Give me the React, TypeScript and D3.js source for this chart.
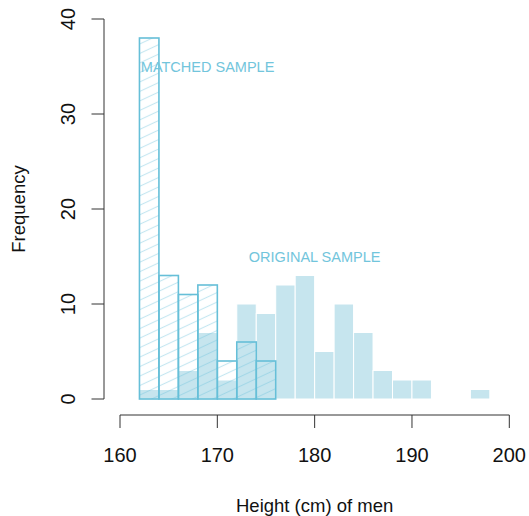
import React from "react";
import * as d3 from "d3";

const binStarts = [162, 164, 166, 168, 170, 172, 174, 176, 178, 180, 182, 184, 186, 188, 190, 192, 194, 196];
const binWidth = 2;
const originalCounts = [1, 1, 3, 7, 2, 10, 9, 12, 13, 5, 10, 7, 3, 2, 2, 0, 0, 1];
const matchedCounts = [38, 13, 11, 12, 4, 6, 4];
const xTicks = [160, 170, 180, 190, 200];
const yTicks = [0, 10, 20, 30, 40];
const labels = [
  { text: "MATCHED SAMPLE", x: 169, y: 35 },
  { text: "ORIGINAL SAMPLE", x: 180, y: 15 },
];

const W = 529;
const H = 516;
const FONT = "'Liberation Sans', Arial, Helvetica, sans-serif";

export default function App() {
  const x = d3.scaleLinear().domain([160, 200]).range([120, 509.3]);
  const y = d3.scaleLinear().domain([0, 40]).range([399, 19]);
  const axisColor = "#333";
  const outline = "#66BFD8";
  const textColor = "#72C5DC";

  return (
    <svg width={W} height={H} style={{ position: "absolute", left: 0, top: 0, background: "#fff" }}>
      <defs>
        <pattern id="hatch" patternUnits="userSpaceOnUse" width={12} height={8.6} patternTransform="rotate(-25)">
          <line x1={0} y1={4.3} x2={12} y2={4.3} stroke="#6EC3DB" strokeOpacity={0.4} strokeWidth={1.1} />
        </pattern>
      </defs>
      {/* original sample */}
      <g>
        {originalCounts.map((c, i) =>
          c > 0 ? (
            <rect
              key={"o" + i}
              x={x(binStarts[i])}
              y={y(c)}
              width={x(binStarts[i] + binWidth) - x(binStarts[i])}
              height={y(0) - y(c)}
              fill="#C6E5EE"
              stroke="#fff"
              strokeWidth={1}
            />
          ) : null
        )}
      </g>
      {/* matched sample */}
      <g>
        {matchedCounts.map((c, i) => (
          <rect
            key={"m" + i}
            x={x(binStarts[i])}
            y={y(c)}
            width={x(binStarts[i] + binWidth) - x(binStarts[i])}
            height={y(0) - y(c)}
            fill="url(#hatch)"
            stroke={outline}
            strokeWidth={1.6}
          />
        ))}
      </g>
      {labels.map((l) => (
        <text
          key={l.text}
          x={x(l.x)}
          y={y(l.y)}
          dy="0.35em"
          textAnchor="middle"
          fontFamily={FONT}
          fontSize={14.5}
          fill={textColor}
        >
          {l.text}
        </text>
      ))}
      {/* x axis */}
      <g>
        <line x1={x(160)} x2={x(200)} y1={415} y2={415} stroke={axisColor} strokeWidth={1} />
        {xTicks.map((t) => (
          <g key={"xt" + t}>
            <line x1={x(t)} x2={x(t)} y1={415} y2={428} stroke={axisColor} strokeWidth={1} />
            <text x={x(t)} y={461.5} textAnchor="middle" fontFamily={FONT} fontSize={20} fill="#111">
              {t}
            </text>
          </g>
        ))}
        <text x={(x(160) + x(200)) / 2} y={511.5} textAnchor="middle" fontFamily={FONT} fontSize={18.5} fill="#111">
          Height (cm) of men
        </text>
      </g>
      {/* y axis */}
      <g>
        <line x1={104} x2={104} y1={y(0)} y2={y(40)} stroke={axisColor} strokeWidth={1} />
        {yTicks.map((t) => (
          <g key={"yt" + t}>
            <line x1={91.5} x2={104} y1={y(t)} y2={y(t)} stroke={axisColor} strokeWidth={1} />
            <text
              transform={`translate(75,${y(t)}) rotate(-90)`}
              textAnchor="middle"
              fontFamily={FONT}
              fontSize={20}
              fill="#111"
            >
              {t}
            </text>
          </g>
        ))}
        <text
          transform={`translate(25,${(y(0) + y(40)) / 2}) rotate(-90)`}
          textAnchor="middle"
          fontFamily={FONT}
          fontSize={18.5}
          fill="#111"
        >
          Frequency
        </text>
      </g>
    </svg>
  );
}
